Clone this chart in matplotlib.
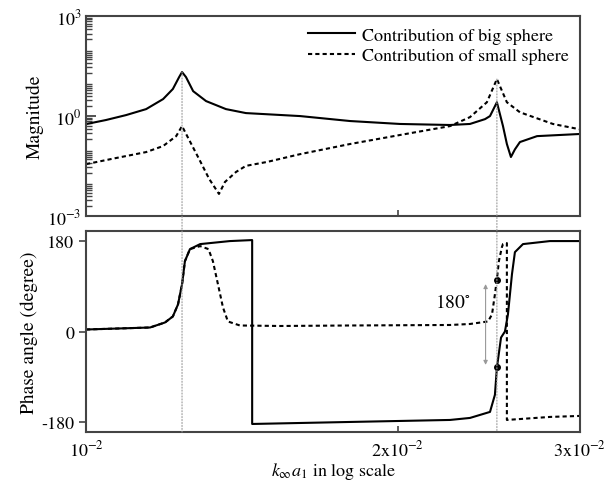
import matplotlib
matplotlib.use("Agg")
import matplotlib.pyplot as plt
from matplotlib.patches import ConnectionPatch
from matplotlib.ticker import FixedLocator, NullLocator

plt.rcParams['font.family'] = ['STIXGeneral', 'DejaVu Serif']
plt.rcParams['mathtext.fontset'] = 'stix'

# ka values (log axis) and magnitudes
k_big_mag = [0.01000, 0.01045, 0.01093, 0.01143, 0.01187, 0.01213, 0.01230, 0.01238, 0.01249,
             0.01269, 0.01306, 0.01365, 0.01427, 0.01610, 0.01799, 0.02010, 0.02247, 0.02349,
             0.02429, 0.02456, 0.02494, 0.02528, 0.02550, 0.02573, 0.02596, 0.02625, 0.02727,
             0.03000]
big_mag = [0.575, 0.76, 1.07, 1.62, 3.24, 6.5, 14.8, 21.0, 14.8,
           5.6, 2.82, 1.62, 1.23, 1.0, 0.71, 0.58, 0.54, 0.58,
           0.81, 1.0, 2.6, 0.5, 0.145, 0.059, 0.10, 0.166, 0.25,
           0.29]

k_small_mag = [0.01000, 0.01069, 0.01143, 0.01187, 0.01222, 0.01238, 0.01257, 0.01286, 0.01315,
               0.01344, 0.01362, 0.01396, 0.01427, 0.01496, 0.01610, 0.01799, 0.02010, 0.02247,
               0.02349, 0.02439, 0.02494, 0.02550, 0.02625, 0.02825, 0.03000]
small_mag = [0.036, 0.055, 0.083, 0.126, 0.25, 0.5, 0.2, 0.051, 0.013,
             0.0046, 0.0105, 0.021, 0.032, 0.042, 0.072, 0.145, 0.27, 0.5,
             0.93, 2.6, 12.9, 2.6, 1.3, 0.58, 0.4]

# phase angles (degree)
k_big_ph = [0.01000, 0.01153, 0.01192, 0.01213, 0.01227, 0.01238, 0.01246, 0.01260, 0.01289,
            0.01377, 0.01447, 0.01447, 0.01799, 0.02247, 0.02349, 0.02456, 0.02483, 0.02494,
            0.02517, 0.02539, 0.02556, 0.02579, 0.02596, 0.02643, 0.02806, 0.03000]
big_ph = [4, 8, 18, 30, 54, 94, 140, 164, 174,
          180, 182, -184, -180, -176, -172, -160, -126, -72,
          -12, 0, 34, 114, 158, 174, 180, 180]

k_small_ph = [0.01000, 0.01153, 0.01192, 0.01213, 0.01227, 0.01238, 0.01246, 0.01260, 0.01289,
              0.01313, 0.01326, 0.01341, 0.01356, 0.01371, 0.01408, 0.01540, 0.01799, 0.02247,
              0.02349, 0.02445, 0.02467, 0.02483, 0.02494, 0.02505, 0.02522, 0.02528, 0.02550,
              0.02550, 0.02806, 0.03000]
small_ph = [4, 8, 18, 30, 54, 94, 140, 164, 170,
            164, 140, 94, 48, 20, 12, 11, 12, 13,
            15, 20, 34, 74, 104, 140, 168, 174, 176,
            -176, -170, -168]

res_k = [0.01238, 0.02494]
res_top = [21.0, 12.9]
dots_ph = [102, -70]
mag_decades = [1e-3, 1e-2, 1e-1, 1e0, 1e1, 1e2]
mag_minor = [m * d for d in mag_decades for m in range(2, 10)]

fig = plt.figure(figsize=(6.06, 4.85), dpi=100)
ax1 = fig.add_axes([0.142, 0.5526, 0.815, 0.412])
ax2 = fig.add_axes([0.142, 0.1072, 0.815, 0.4144])

spine_c = '#444444'
for ax in (ax1, ax2):
    ax.set_xscale('log')
    ax.set_xlim(0.01, 0.03)
    ax.xaxis.set_major_locator(FixedLocator([0.01, 0.02, 0.03]))
    ax.xaxis.set_minor_locator(NullLocator())
    for s in ax.spines.values():
        s.set_color(spine_c)
        s.set_linewidth(1.5)
    ax.tick_params(axis='x', direction='in', length=4, width=1.2, color=spine_c, top=False)

ax1.plot(k_big_mag, big_mag, color='black', lw=1.5, label='Contribution of big sphere')
ax1.plot(k_small_mag, small_mag, color='black', lw=1.5, linestyle=(0, (2, 1.5)),
         label='Contribution of small sphere')
ax1.set_yscale('log')
ax1.set_ylim(1e-3, 1e3)
ax1.set_yticks([1e-3, 1e0, 1e3])
ax1.set_yticklabels([r'$10^{-3}$', r'$10^{0}$', r'$10^{3}$'], fontsize=13)
ax1.set_yticks(mag_minor, minor=True)
ax1.set_yticklabels([], minor=True)
ax1.tick_params(axis='y', which='major', direction='in', length=7, width=1.3, color=spine_c)
ax1.tick_params(axis='y', which='minor', direction='in', length=4, width=1.0, color=spine_c)
ax1.set_xticklabels([])
ax1.set_ylabel('Magnitude', fontsize=14, labelpad=2)
ax1.legend(loc='upper right', frameon=False, fontsize=13, handlelength=2.6,
           handletextpad=0.4, borderaxespad=0.2, labelspacing=0.2)

ax2.plot(k_big_ph, big_ph, color='black', lw=1.5)
ax2.plot(k_small_ph, small_ph, color='black', lw=1.5, linestyle=(0, (2, 1.5)))
ax2.set_ylim(-200, 200)
ax2.set_yticks([-180, 0, 180])
ax2.set_yticklabels(['-180', '0', '180'], fontsize=13)
ax2.tick_params(axis='y', direction='out', length=5, width=1.2, color=spine_c)
ax2.set_xticklabels([r'$10^{-2}$', r'$2\mathrm{x}10^{-2}$', r'$3\mathrm{x}10^{-2}$'], fontsize=13)
ax2.tick_params(axis='x', pad=5)
ax2.set_ylabel('Phase angle (degree)', fontsize=14, labelpad=2)
ax2.set_xlabel(r'$k_{\infty}a_{1}$ in log scale', fontsize=13, labelpad=1)

# resonance guide lines through both panels
for xk, yt in zip(res_k, res_top):
    con = ConnectionPatch(xyA=(xk, yt), coordsA=ax1.transData,
                          xyB=(xk, -200), coordsB=ax2.transData,
                          color='#999999', lw=0.8, linestyle=':')
    fig.add_artist(con)

ax2.plot([res_k[1]] * 2, dots_ph, 'o', color='black', ms=4, linestyle='none')
ax2.annotate('', xy=(0.02432, 100), xytext=(0.02432, -72),
             arrowprops=dict(arrowstyle='<|-|>', color='#999999', lw=0.8,
                             mutation_scale=6))
ax2.text(0.02262, 58, r'180$^{\circ}$', fontsize=14, ha='center', va='center')

fig.savefig('out.png', dpi=100)
